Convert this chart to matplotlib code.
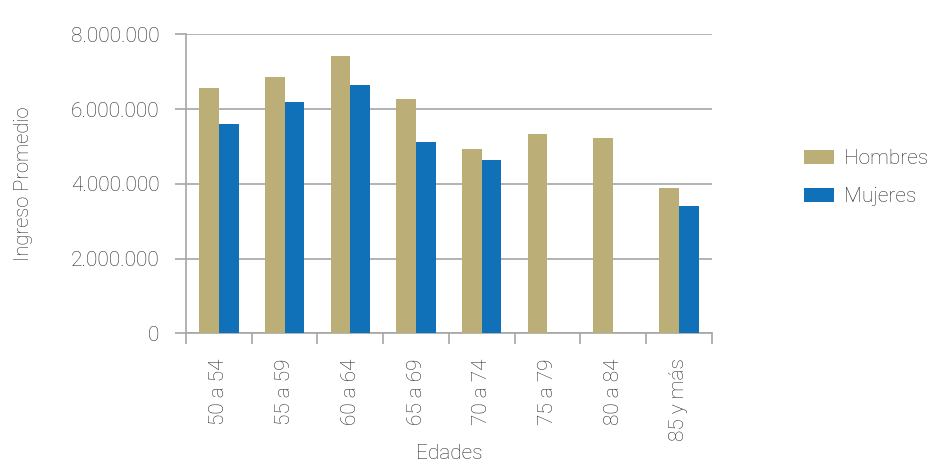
import matplotlib.pyplot as plt
import numpy as np
from matplotlib.ticker import FuncFormatter

# === データ ===
edades = ['50 a 54', '55 a 59', '60 a 64', '65 a 69', '70 a 74', '75 a 79', '80 a 84', '85 y más']
hombres = [6555000, 6850000, 7420000, 6270000, 4930000, 5320000, 5230000, 3880000]
mujeres = [5600000, 6180000, 6650000, 5120000, 4650000, 0, 0, 3410000]

color_h = '#BBAE76'
color_m = '#1071B8'
grid_c = '#a6a6a6'
text_c = '#2b2b2b'

plt.rcParams['font.family'] = ['Roboto', 'DejaVu Sans']
plt.rcParams['font.weight'] = 'light'
plt.rcParams['axes.labelweight'] = 'light'

fig = plt.figure(figsize=(9.34, 4.68), dpi=100)
ax = fig.add_axes([0.1991, 0.2878, 0.5630, 0.6389])

x = np.arange(len(edades))
w = 0.30
ax.bar(x - w / 2, hombres, width=w, color=color_h, label='Hombres', zorder=3)
ax.bar(x + w / 2, mujeres, width=w, color=color_m, label='Mujeres', zorder=3)

ax.set_xlim(-0.5, len(edades) - 0.5)
ax.set_ylim(0, 8000000)
ax.set_yticks(np.arange(0, 8000001, 2000000))
ax.yaxis.set_major_formatter(FuncFormatter(lambda v, p: f"{int(v):,}".replace(',', '.')))
ax.grid(axis='y', color=grid_c, linewidth=1.2, zorder=0)

# ticks en los límites de categoría, etiquetas en el centro
ax.set_xticks(np.arange(-0.5, len(edades), 1.0))
ax.set_xticklabels([])
ax.set_xticks(x, minor=True)
ax.set_xticklabels(edades, minor=True, rotation=90, fontsize=15, color=text_c)
ax.tick_params(axis='x', which='major', length=8, color=grid_c, width=1.2)
ax.tick_params(axis='x', which='minor', length=0, pad=18)
ax.tick_params(axis='y', length=8, color=grid_c, width=1.2, labelsize=15,
               labelcolor=text_c, pad=11)

for s in ['top', 'right']:
    ax.spines[s].set_visible(False)
for s in ['left', 'bottom']:
    ax.spines[s].set_color(grid_c)
    ax.spines[s].set_linewidth(1.2)

ax.set_xlabel('Edades', fontsize=15, color=text_c, labelpad=2)
ax.set_ylabel('Ingreso Promedio', fontsize=14.5, color=text_c, labelpad=27)

ax.legend(loc='center left', bbox_to_anchor=(1.14, 0.52), frameon=False,
          fontsize=15, labelcolor=text_c, handlelength=1.45, handleheight=0.63,
          handletextpad=0.45, labelspacing=0.9)

plt.savefig('out.png', dpi=100)
